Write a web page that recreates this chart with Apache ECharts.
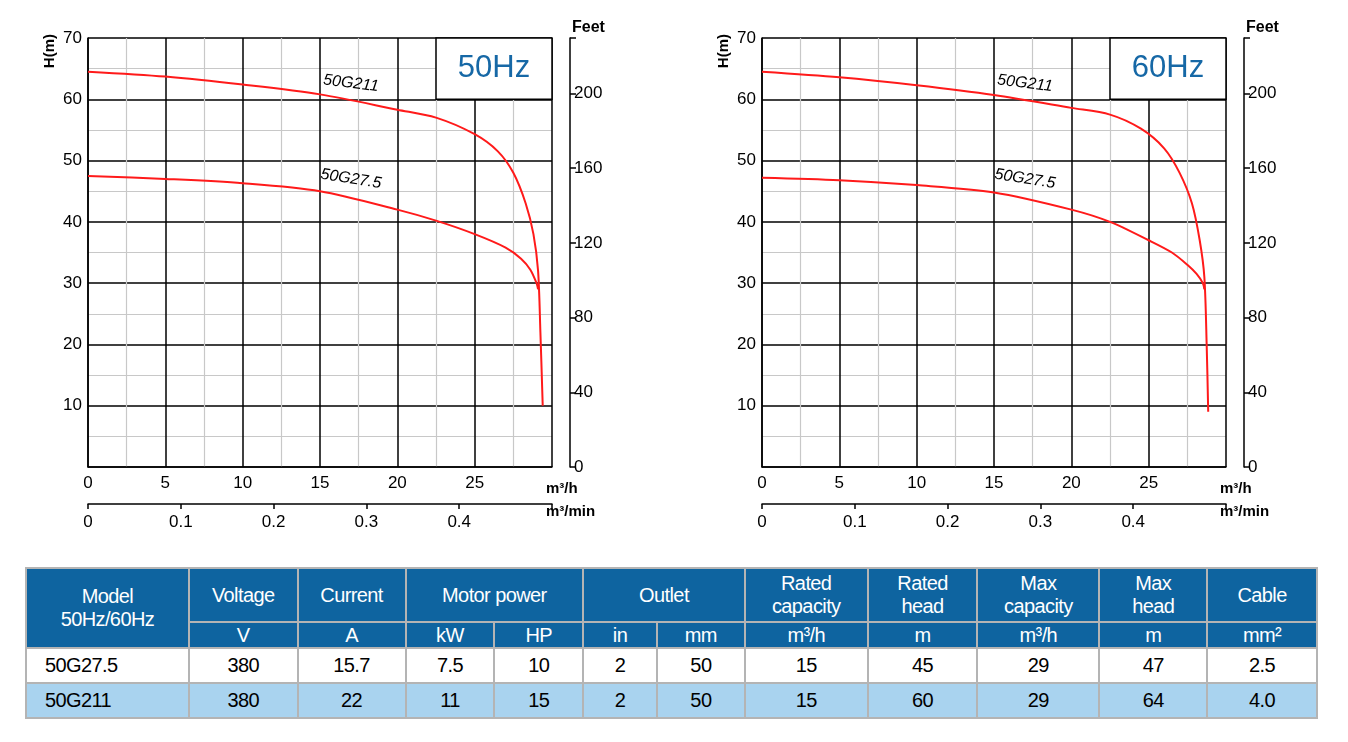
<!DOCTYPE html>
<html><head><meta charset="utf-8">
<script src="https://cdn.jsdelivr.net/npm/echarts@6/dist/echarts.min.js"></script>
<style>
body{margin:0;background:#fff;font-family:"Liberation Sans",Arial,sans-serif;}
#chart{width:1348px;height:545px;}
table{position:absolute;left:25px;top:567px;border-collapse:collapse;width:1293px;font-size:20px;letter-spacing:-0.6px}
td{border:2px solid #b4b4b4;text-align:center;height:33px;padding:0;color:#000}
tr.h td{background:#0e64a0;color:#fff;border-color:#b4b4b4}
tr.b td{background:#a9d3ef}
td.m{text-align:left;padding-left:18px}
</style></head><body>
<div id="chart"></div>
<table id="tbl"></table>
<script>
// 50Hz curves [Q m3/h, H m]
var q50_211 = [0,5,10,15,20,22.5,25,26.5,27.5,28.3,28.8,29.1,29.25,29.4];
var h50_211 = [64.5,63.7,62.4,60.8,58.3,57,54.3,51.5,48,43,38,32,22,10];
var q50_275 = [0,5,10,15,20,22.5,25,27,28,28.6,29.0,29.1];
var h50_275 = [47.5,47.0,46.3,45.0,42.0,40.2,38.0,35.8,34.0,32.2,30,29];
// 60Hz curves
var q60_211 = [0,5,10,15,20,22.5,24.5,26,27,27.8,28.3,28.6,28.75,28.85];
var h60_211 = [64.5,63.6,62.3,60.7,58.6,57.5,55.2,52,48,43,37,31,20,9];
var q60_275 = [0,5,10,15,20,22.5,25,26.5,27.5,28.1,28.5,28.6];
var h60_275 = [47.2,46.8,46.0,44.8,42.0,40.0,37.0,35.0,33.0,31.5,30,29];
var feetTicks = [0,40,80,120,160,200];

var headers1 = ['Model<br>50Hz/60Hz','Voltage','Current','Motor power','Outlet','Rated<br>capacity','Rated<br>head','Max<br>capacity','Max<br>head','Cable'];
var units = ['V','A','kW','HP','in','mm','m³/h','m','m³/h','m','mm²'];
var rows = [
  ['50G27.5','380','15.7','7.5','10','2','50','15','45','29','47','2.5'],
  ['50G211','380','22','11','15','2','50','15','60','29','64','4.0']
];
var colW = [163,109,108,89,89,74,88,123,110,122,108,110];

function zip(a,b){return a.map(function(v,i){return [v,b[i]];});}

var grids=[], xs=[], ys=[], series=[], graphics=[];
function addChart(idx, left, hz, d211, d275){
  grids.push({left:left,top:38,width:464,height:429});
  var axFont = {color:'#000',fontSize:17,fontFamily:'Liberation Sans'};
  var blk = {color:'#000',width:1.5};
  xs.push({gridIndex:idx,type:'value',min:0,max:30,interval:5,
    axisLine:{show:true,onZero:false,lineStyle:blk},axisTick:{show:false},
    axisLabel:Object.assign({margin:8,formatter:function(v){return v==30?'':v;}},axFont),
    splitLine:{lineStyle:blk},
    minorTick:{show:false,splitNumber:2},minorSplitLine:{show:true,lineStyle:{color:'#c8c8c8',width:1.2}},
    name:'m³/h',nameLocation:'end',nameGap:-6,
    nameTextStyle:{color:'#000',fontSize:15,fontWeight:'bold',verticalAlign:'top',align:'left',padding:[14,0,0,0]}});
  xs.push({gridIndex:idx,type:'value',position:'bottom',offset:37,min:0,max:0.5,interval:0.1,
    axisLine:{show:true,onZero:false,lineStyle:blk},axisTick:{show:true,length:5,lineStyle:blk},
    axisLabel:Object.assign({margin:10,formatter:function(v){return v>=0.5?'':v;}},axFont),
    splitLine:{show:false},
    name:'m³/min',nameLocation:'end',nameGap:-6,
    nameTextStyle:{color:'#000',fontSize:15,fontWeight:'bold',verticalAlign:'top',align:'left',padding:[0,0,0,0]}});
  ys.push({gridIndex:idx,type:'value',min:0,max:70,interval:10,
    axisLine:{show:true,onZero:false,lineStyle:blk},axisTick:{show:false},
    axisLabel:Object.assign({margin:6,formatter:function(v){return v==0?'':v;}},axFont),
    splitLine:{lineStyle:blk},minorTick:{show:false,splitNumber:2},
    minorSplitLine:{show:true,lineStyle:{color:'#c8c8c8',width:1.2}}});
  ys.push({gridIndex:idx,type:'value',position:'right',offset:18,min:0,max:70*3.28084,interval:40,
    axisLine:{show:true,onZero:false,lineStyle:blk},axisTick:{show:true,inside:false,length:6,lineStyle:blk},
    axisLabel:Object.assign({margin:4,formatter:function(v){return feetTicks.indexOf(v)>=0?v:'';}},axFont),
    splitLine:{show:false},name:'Feet',nameGap:2,
    nameTextStyle:{color:'#000',fontSize:16,fontWeight:'bold',align:'left',padding:[0,0,0,2]}});
  var xi=idx*2, yi=idx*2;
  var line={color:'#ff1a1a',width:2};
  series.push({type:'line',xAxisIndex:xi,yAxisIndex:yi,data:d211,smooth:0.3,symbol:'none',lineStyle:line,z:5,
    markArea:{silent:true,z:3,data:[[{coord:[22.5,60],itemStyle:{color:'#fff',borderColor:'#000',borderWidth:1.5}},{coord:[30,70]}]],
      label:{show:true,position:'inside',formatter:hz,color:'#1668a6',fontSize:31,fontFamily:'Liberation Sans'}},
    markPoint:{symbol:'circle',symbolSize:0,data:[{coord:[17,62.6],label:{show:true,formatter:'50G211',rotate:-7,color:'#000',fontSize:16,fontStyle:'italic'}}]}});
  series.push({type:'line',xAxisIndex:xi,yAxisIndex:yi,data:d275,smooth:0.3,symbol:'none',lineStyle:line,z:5,
    markPoint:{symbol:'circle',symbolSize:0,data:[{coord:[17,47],label:{show:true,formatter:'50G27.5',rotate:-9,color:'#000',fontSize:16,fontStyle:'italic'}}]}});
  graphics.push({type:'text',left:left-46,top:34,rotation:Math.PI/2,
    style:{text:'H(m)',fill:'#000',font:'bold 15px Liberation Sans'}});
}
addChart(0,88,'50Hz',zip(q50_211,h50_211),zip(q50_275,h50_275));
addChart(1,762,'60Hz',zip(q60_211,h60_211),zip(q60_275,h60_275));

var chart = echarts.init(document.getElementById('chart'));
chart.setOption({animation:false,textStyle:{fontFamily:'Liberation Sans'},
  grid:grids,xAxis:xs,yAxis:ys,series:series,graphic:graphics});

// table
var t=document.getElementById('tbl'), h='<colgroup>';
colW.forEach(function(w){h+='<col style="width:'+w+'px">';});
h+='</colgroup><tr class="h" style="height:54px">';
headers1.forEach(function(s,i){
  var span=(i==3||i==4)?' colspan="2"':'';
  var rs=i==0?' rowspan="2"':'';
  h+='<td'+span+rs+'>'+s+'</td>';
});
h+='</tr><tr class="h" style="height:26px">';
units.forEach(function(u){h+='<td style="height:24px">'+u+'</td>';});
h+='</tr>';
rows.forEach(function(r,ri){
  h+='<tr class="'+(ri?'b':'')+'">';
  r.forEach(function(c,i){h+='<td'+(i==0?' class="m"':'')+'>'+c+'</td>';});
  h+='</tr>';
});
t.innerHTML=h;
</script>
</body></html>
